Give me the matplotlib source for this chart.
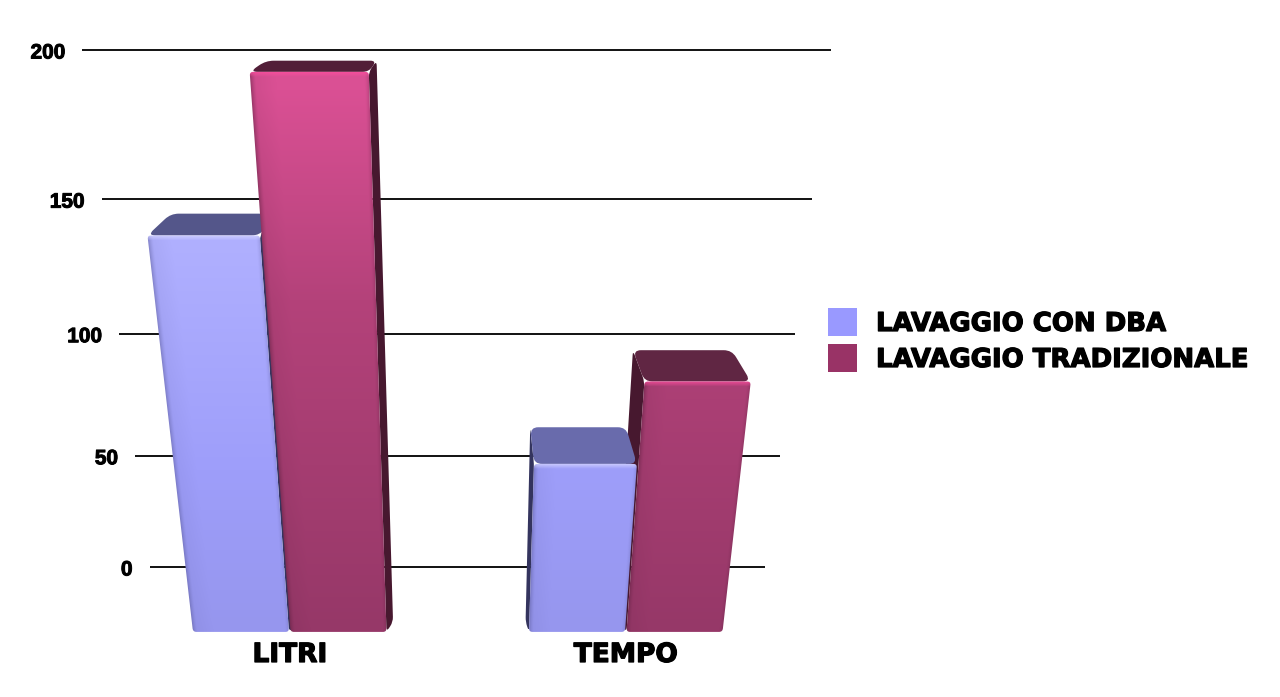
import numpy as np
import matplotlib
matplotlib.use('Agg')
import matplotlib.pyplot as plt
import matplotlib.patheffects as pe
from matplotlib.patches import PathPatch, Rectangle
from matplotlib.path import Path

# ==========================================
# data
# ==========================================
categories = ['LITRI', 'TEMPO']
series_names = ['LAVAGGIO CON DBA', 'LAVAGGIO TRADIZIONALE']
dba_values = [137, 46.5]
trad_values = [193, 81]
grid_values = [0, 50, 100, 150, 200]

# ==========================================
# perspective of the picture (pixels)
# ==========================================
VP_X, VP_Y = 460, 2957      # where the vertical edges meet
GROUND_Y = 632
DEPTH_VP = (480, -100)      # where the depth edges meet
DEPTH_X, DEPTH_Y = 0.07, 0.065
GROUP_LEFT = [193, 529]
BAR_W = 96
BAR_STEP = 97.5
GRID_L, GRID_R = 158, 757
BASE_V = -31.4              # value of the bar feet, below the 0 line

DBA_COL = '#9999ff'
TRAD_COL = '#993366'
HEAVY = [pe.withStroke(linewidth=0.9, foreground='black')]


def scale_at(v):
    return 1 / (0.9728 - 0.000865 * v)


def project(xb, v):
    s = scale_at(v)
    return VP_X + (xb - VP_X) * s, VP_Y - (VP_Y - GROUND_Y) * s


def to_back(p):
    return (DEPTH_VP[0] + (p[0] - DEPTH_VP[0]) * (1 - DEPTH_X),
            DEPTH_VP[1] + (p[1] - DEPTH_VP[1]) * (1 - DEPTH_Y))


def rounded(pts, r):
    # closed polygon with soft corners
    pts = [np.array(p, float) for p in pts]
    verts, codes = [], []
    n = len(pts)
    for i in range(n):
        p, a, b = pts[i], pts[i - 1], pts[(i + 1) % n]
        rr = min(r, np.linalg.norm(a - p) / 2.2, np.linalg.norm(b - p) / 2.2)
        p1 = p + (a - p) / np.linalg.norm(a - p) * rr
        p2 = p + (b - p) / np.linalg.norm(b - p) * rr
        verts.append(p1)
        codes.append(Path.MOVETO if i == 0 else Path.LINETO)
        verts += [p, p2]
        codes += [Path.CURVE3, Path.CURVE3]
    verts.append(verts[0])
    codes.append(Path.CLOSEPOLY)
    return Path(verts, codes)


STYLES = {
    'dba': {
        'y': [240, 470, 630],
        'rgb': [(176, 176, 255), (158, 158, 250), (150, 150, 238)],
        'light': (214, 214, 255), 'edge': (88, 88, 150),
        'side': '#34345e',
    },
    'trad': {
        'y': [90, 300, 630],
        'rgb': [(218, 80, 148), (180, 66, 122), (150, 56, 104)],
        'light': (255, 78, 160), 'edge': (88, 30, 60),
        'side': '#47182f',
    },
}
TOP_COL = {('dba', 0): '#54568a', ('trad', 0): '#521e38',
           ('dba', 1): '#696bac', ('trad', 1): '#602643'}


def draw_bar(ax, xl, xr, value, kind, group):
    st = STYLES[kind]
    ft_l, ft_r = project(xl, value), project(xr, value)
    fb_l, fb_r = project(xl, BASE_V), project(xr, BASE_V)
    bt_l, bt_r = to_back(ft_l), to_back(ft_r)

    # side wall on the outer side of the bar
    if xr < VP_X:
        side = [ft_r, bt_r, (to_back(fb_r)[0], fb_r[1] - 10), (fb_r[0], fb_r[1])]
    else:
        side = [ft_l, bt_l, (to_back(fb_l)[0], fb_l[1] - 10), (fb_l[0], fb_l[1])]
    ax.add_patch(PathPatch(rounded(side, 5), fc=st['side'], ec='none', zorder=3))

    # top face
    ax.add_patch(PathPatch(rounded([ft_l, bt_l, bt_r, ft_r], 8),
                           fc=TOP_COL[(kind, group)], ec='none', zorder=3))

    # front face as a small shaded image, clipped to the face
    x0, x1 = int(min(ft_l[0], fb_l[0])) - 2, int(max(ft_r[0], fb_r[0])) + 2
    y0, y1 = int(ft_l[1]) - 2, int(fb_l[1]) + 2
    xs, ys = np.meshgrid(np.arange(x0, x1) + 0.5, np.arange(y0, y1) + 0.5)
    s = (VP_Y - ys) / (VP_Y - GROUND_Y)
    left, right = VP_X + (xl - VP_X) * s, VP_X + (xr - VP_X) * s
    u = (xs - left) / (right - left)
    img = np.dstack([np.interp(ys, st['y'], [c[i] for c in st['rgb']]) for i in range(3)])

    edge = np.array(st['edge'], float)
    light = np.array(st['light'], float)
    dark = np.clip(1 - u / 0.05, 0, 1) ** 1.5 * 0.45 + np.clip(1 - (1 - u) / 0.04, 0, 1) ** 1.5 * 0.25
    soft = np.clip(1 - u / 0.22, 0, 1) * 0.10
    glow = np.clip(1 - (ys - ft_l[1]) / 5, 0, 1) * 0.75
    img = img * (1 - soft[..., None]) + edge * soft[..., None]
    img = img * (1 - dark[..., None]) + edge * dark[..., None]
    img = img * (1 - glow[..., None]) + light * glow[..., None]

    face = PathPatch(rounded([ft_l, ft_r, fb_r, fb_l], 3.5), fc='none', ec='none',
                     transform=ax.transData)
    ax.add_patch(face)
    im = ax.imshow(img / 255, extent=(x0, x1, y1, y0), aspect='auto',
                   interpolation='bilinear', zorder=4)
    im.set_clip_path(face)


# ==========================================
# figure
# ==========================================
fig = plt.figure(figsize=(12.8, 6.97), dpi=100)
ax = fig.add_axes([0, 0, 1, 1])

for v in grid_values:
    xa, ya = project(GRID_L, v)
    xb, yb = project(GRID_R, v)
    ax.plot([xa, xb], [ya, yb], color='#111111', lw=1.4, zorder=1, solid_capstyle='butt')
    ax.text(xa - 17, ya + 3, str(v), ha='right', va='center', fontsize=15,
            fontweight='bold', family='Liberation Sans', color='black',
            path_effects=[pe.withStroke(linewidth=0.7, foreground='black')])

for g, cat in enumerate(categories):
    bars = [(GROUP_LEFT[g], dba_values[g], 'dba'),
            (GROUP_LEFT[g] + BAR_STEP, trad_values[g], 'trad')]
    # bars far from the middle of the picture are painted first
    bars.sort(key=lambda b: -abs(b[0] + BAR_W / 2 - VP_X))
    for xl, val, kind in bars:
        draw_bar(ax, xl, xl + BAR_W, val, kind, g)
    ax.text(GROUP_LEFT[g] + (BAR_STEP + BAR_W) / 2, 655, cat, ha='center', va='center',
            fontsize=19, fontweight='bold', family='DejaVu Sans', color='black',
            path_effects=HEAVY)

# legend
for name, col, top in zip(series_names, [DBA_COL, TRAD_COL], [308, 344]):
    ax.add_patch(Rectangle((828, top), 29, 28, fc=col, ec='none', zorder=2))
    ax.text(876, top + 16, name, ha='left', va='center', fontsize=18.7, fontweight='bold',
            family='DejaVu Sans', color='black', path_effects=HEAVY)

ax.set_xlim(0, 1280)
ax.set_ylim(697, 0)
ax.axis('off')

plt.savefig('out.png', dpi=100)
